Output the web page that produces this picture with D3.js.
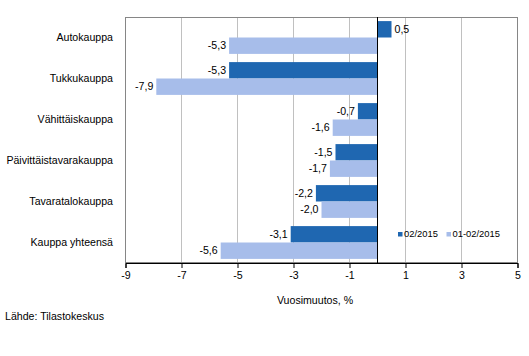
<!DOCTYPE html>
<html><head><meta charset="utf-8">
<script src="https://cdn.jsdelivr.net/npm/d3@7"></script>
<style>body{margin:0;background:#fff}svg{display:block;font-family:"Liberation Sans",Arial,sans-serif}</style>
</head><body><svg id="c" width="529" height="356"></svg>
<script>
const categories = ["Autokauppa","Tukkukauppa","Vähittäiskauppa","Päivittäistavarakauppa","Tavaratalokauppa","Kauppa yhteensä"];
const seriesNames = ["02/2015","01-02/2015"];
const s1 = [0.5,-5.3,-0.7,-1.5,-2.2,-3.1];
const s2 = [-5.3,-7.9,-1.6,-1.7,-2.0,-5.6];
const ticks = [-9,-7,-5,-3,-1,1,3,5];
const colors = ["#1f67b1","#a7bdea"];

const svg = d3.select("#c");
const L=125.5,R=517.5,T=17,B=263;
const x = d3.scaleLinear().domain([-9,5]).range([L,R]);
const y = d3.scaleBand().domain(categories).range([T,B]).paddingInner(0.2).paddingOuter(0.1);
const ys = d3.scaleBand().domain([0,1]).range([0,y.bandwidth()]);

// grid
svg.append("g").selectAll("line").data(ticks.filter(t=>t>-9&&t<5)).join("line")
 .attr("x1",d=>x(d)).attr("x2",d=>x(d)).attr("y1",T).attr("y2",B)
 .attr("stroke","#c0c0c0").attr("stroke-width",1);
// frame
svg.append("rect").attr("x",L).attr("y",T+0.5).attr("width",R-L).attr("height",B-T-1)
 .attr("fill","none").attr("stroke","#868686");

const series=[s1,s2];
series.forEach((vals,si)=>{
  const g=svg.append("g");
  g.selectAll("rect").data(vals).join("rect")
   .attr("x",d=>x(Math.min(0,d))).attr("width",d=>Math.abs(x(d)-x(0)))
   .attr("y",(d,i)=>y(categories[i])+ys(si)).attr("height",ys.bandwidth())
   .attr("fill",colors[si]);
  g.selectAll("text").data(vals).join("text")
   .attr("x",d=>d<0?x(d)-3:x(d)+3)
   .attr("y",(d,i)=>y(categories[i])+ys(si)+ys.bandwidth()/2)
   .attr("dy","0.35em").attr("text-anchor",d=>d<0?"end":"start")
   .attr("font-size",10.6).attr("fill","#000")
   .text(d=>d3.format(".1f")(d).replace(".",",").replace("−","-"));
});

// zero line
svg.append("line").attr("x1",x(0)).attr("x2",x(0)).attr("y1",T).attr("y2",B).attr("stroke","#000");

// x axis
const ax = svg.append("g").attr("transform",`translate(0,${B})`)
 .call(d3.axisBottom(x).tickValues(ticks).tickSize(5).tickFormat(d=>String(d)));
ax.select(".domain").attr("stroke","#000");
ax.selectAll(".tick line").attr("stroke","#000");
ax.selectAll("text").attr("font-size",10.6).attr("font-family","Liberation Sans, Arial, sans-serif").attr("fill","#000").attr("dy","0.75em");

// category labels
svg.append("g").selectAll("text").data(categories).join("text")
 .attr("x",113).attr("y",d=>y(d)+y.bandwidth()/2).attr("dy","0.35em")
 .attr("text-anchor","end").attr("font-size",10.6).text(d=>d);

// axis title
svg.append("text").attr("x",315).attr("y",304).attr("text-anchor","middle").attr("font-size",10.6).text("Vuosimuutos, %");
svg.append("text").attr("x",5).attr("y",320).attr("font-size",10.6).text("Lähde: Tilastokeskus");

// legend
const lg=svg.append("g");
const lx=[398,446.5];
seriesNames.forEach((n,i)=>{
  lg.append("rect").attr("x",lx[i]).attr("y",232).attr("width",4.5).attr("height",4.5).attr("fill",colors[i]);
  lg.append("text").attr("x",lx[i]+6).attr("y",234).attr("dy","0.35em").attr("font-size",9.4).text(n);
});
</script></body></html>
